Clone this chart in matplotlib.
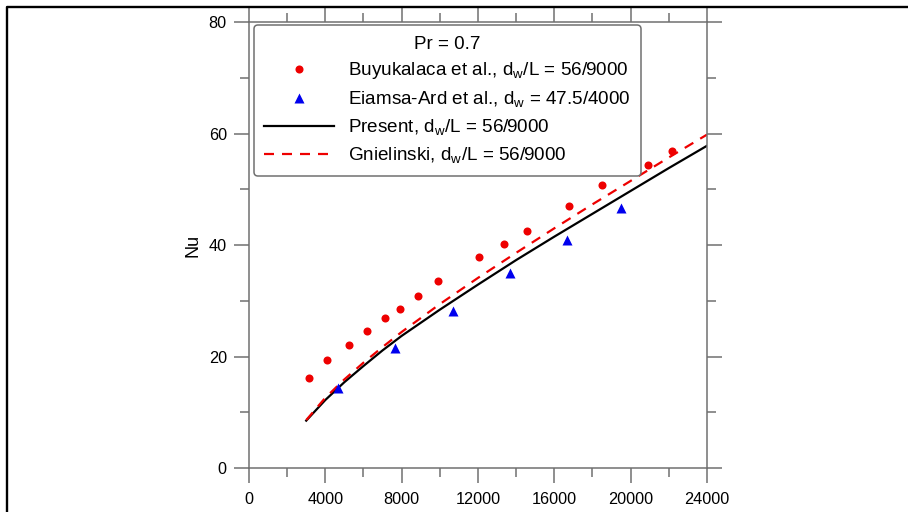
import matplotlib
matplotlib.use("Agg")
import matplotlib.pyplot as plt
from matplotlib.lines import Line2D
from matplotlib.ticker import MultipleLocator

plt.rcParams['font.family'] = ['Liberation Sans', 'DejaVu Sans']
plt.rcParams['mathtext.fontset'] = 'custom'
plt.rcParams['mathtext.rm'] = 'Liberation Sans'
plt.rcParams['mathtext.it'] = 'Liberation Sans'
plt.rcParams['mathtext.default'] = 'regular'

# Buyukalaca et al. (red circles)
re_buy = [3140, 4090, 5240, 6180, 7130, 7910, 8860, 9920, 12050, 13390, 14570, 16770, 18500, 20910, 22170]
nu_buy = [16.1, 19.4, 22.1, 24.6, 26.9, 28.5, 30.9, 33.5, 37.8, 40.2, 42.5, 47.0, 50.8, 54.4, 56.9]

# Eiamsa-Ard et al. (blue triangles)
re_eia = [4650, 7650, 10670, 13680, 16660, 19490]
nu_eia = [14.4, 21.5, 28.2, 35.0, 40.9, 46.6]

# curves
re_line = [3000, 4000, 5000, 6000, 7000, 8000, 10000, 12000, 14000, 16000, 18000, 20000, 22000, 24000]
nu_present = [8.5, 12.2, 15.4, 18.3, 21.1, 23.7, 28.4, 32.9, 37.3, 41.5, 45.6, 49.7, 53.8, 57.8]
nu_gniel = [8.6, 12.6, 15.9, 18.9, 21.7, 24.4, 29.4, 34.1, 38.6, 43.0, 47.3, 51.5, 55.7, 59.8]

fig = plt.figure(figsize=(9.08, 5.12), dpi=100)
ax = fig.add_axes([0.2742, 0.0859, 0.5044, 0.8711])

ax.plot(re_buy, nu_buy, 'o', color='#ee0000', ms=5.8, mec='none', zorder=3,
        label='Buyukalaca et al., d$_w$/L = 56/9000')
ax.plot(re_eia, nu_eia, '^', color='#0000ee', ms=6.5, mec='none', zorder=3,
        label='Eiamsa-Ard et al., d$_w$ = 47.5/4000')
ax.plot(re_line, nu_present, '-', color='black', lw=1.6,
        label='Present, d$_w$/L = 56/9000')
ax.plot(re_line, nu_gniel, '--', color='#ee0000', lw=1.6, dashes=(4.5, 3.6),
        label='Gnielinski, d$_w$/L = 56/9000')

ax.set_xlim(0, 24000)
ax.set_ylim(0, 80)
ax.xaxis.set_major_locator(MultipleLocator(4000))
ax.xaxis.set_minor_locator(MultipleLocator(2000))
ax.yaxis.set_major_locator(MultipleLocator(20))
ax.yaxis.set_minor_locator(MultipleLocator(10))

for s in ax.spines.values():
    s.set_color('#707070')
    s.set_linewidth(1.1)
ax.tick_params(which='both', direction='out', color='#707070', width=1.1,
               top=True, right=True, labelsize=11.7)
ax.tick_params(which='major', length=11, pad=5)
ax.tick_params(which='minor', length=6.5)
ax.tick_params(axis='x', which='major', pad=6)

ax.set_ylabel('Nu', fontsize=13, labelpad=5)

leg = ax.legend(loc='upper left', bbox_to_anchor=(0.011, 0.993), borderaxespad=0,
                title='Pr = 0.7', fontsize=13.6, title_fontsize=13.6,
                numpoints=1, handlelength=3.7, handletextpad=0.7,
                labelspacing=0.42, fancybox=True, framealpha=1,
                borderpad=0.55)
leg.get_frame().set_edgecolor('#707070')
leg.get_frame().set_linewidth(1.1)

# outer frame (cropped at right and bottom)
fig.add_artist(Line2D([7 / 908, 7 / 908, 1.01], [-0.01, 1 - 6.5 / 512, 1 - 6.5 / 512],
                      transform=fig.transFigure, color='black', lw=1.7))

fig.savefig('out.png', dpi=100)
